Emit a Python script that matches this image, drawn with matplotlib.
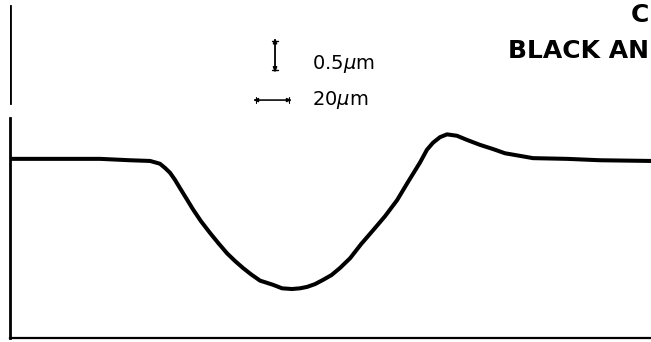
import matplotlib
matplotlib.use("Agg")
import matplotlib.pyplot as plt

# surface profile: position (um) and height (um)
position_um = [0.5, 25.6, 46.2, 61.5, 71.8, 74.4, 76.9, 79.5, 82.1, 84.6,
               87.2, 90.3, 93.8, 97.9, 102.6, 106.7, 111.3, 115.4, 119.5, 123.6,
               128.2, 134.9, 139.5, 144.6, 148.7, 152.3, 156.4, 160.5, 164.9, 169.2,
               174.4, 180.0, 186.2, 192.3, 198.5, 204.1, 210.3, 213.8, 216.9, 220.5,
               224.1, 229.2, 234.4, 241.0, 247.7, 253.8, 260.0, 268.2, 285.6, 302.6,
               328.7]
height_um = [2.56, 2.56, 2.56, 2.54, 2.53, 2.51, 2.49, 2.43, 2.36, 2.26,
             2.14, 2.00, 1.84, 1.67, 1.50, 1.36, 1.21, 1.10, 1.00, 0.91,
             0.82, 0.76, 0.71, 0.70, 0.71, 0.73, 0.77, 0.83, 0.90, 1.00,
             1.14, 1.34, 1.54, 1.74, 1.97, 2.23, 2.51, 2.69, 2.79, 2.87,
             2.91, 2.89, 2.83, 2.76, 2.70, 2.64, 2.61, 2.57, 2.56, 2.54,
             2.53]

scale_labels = [r"0.5$\mu$m", r"20$\mu$m"]
scale_sizes = [0.5, 20]
title_lines = ["C", "BLACK AN"]

W, H = 651, 342
fig = plt.figure(figsize=(W / 100, H / 100), dpi=100)
ax = fig.add_axes([10 / W, 4 / H, 641 / W, 338 / H])
ax.set_xlim(0, 328.7)
ax.set_ylim(0, 4.83)

ax.plot(position_um, height_um, color="black", lw=2.9, solid_capstyle="round",
        solid_joinstyle="round")

# frame: left and bottom only, left one has a break in it
for s in ["top", "right"]:
    ax.spines[s].set_visible(False)
ax.spines["left"].set_linewidth(2.0)
ax.spines["bottom"].set_linewidth(1.6)
ax.spines["left"].set_bounds(0, 3.14)
ax.axvline(0, ymin=3.36 / 4.83, ymax=4.74 / 4.83, color="black", lw=2.0)
ax.set_xticks([])
ax.set_yticks([])

# scale bars
vx, vtop = 135.9, 4.29
ax.annotate("", xy=(vx, vtop - scale_sizes[0]), xytext=(vx, vtop),
            arrowprops=dict(arrowstyle="|-|,widthA=0.25,widthB=0.25", lw=1.0, color="black"))
ax.annotate("", xy=(vx, vtop - scale_sizes[0]), xytext=(vx, vtop),
            arrowprops=dict(arrowstyle="<|-|>,head_length=0.3,head_width=0.12", lw=1.0,
                            color="black", shrinkA=0, shrinkB=0))
hx, hy = 124.6, 3.40
ax.annotate("", xy=(hx + scale_sizes[1], hy), xytext=(hx, hy),
            arrowprops=dict(arrowstyle="|-|,widthA=0.2,widthB=0.2", lw=0.8, color="black"))
ax.annotate("", xy=(hx + scale_sizes[1], hy), xytext=(hx, hy),
            arrowprops=dict(arrowstyle="<|-|>,head_length=0.3,head_width=0.12", lw=0.8,
                            color="black", shrinkA=0, shrinkB=0))

ax.text(155.0, 3.91, scale_labels[0], fontsize=14, va="center", ha="left")
ax.text(155.0, 3.40, scale_labels[1], fontsize=14, va="center", ha="left")

# heading at the top right (cut off in the source)
fig.text(649 / W, 1 - 15 / H, title_lines[0], fontsize=18, fontweight="bold",
         va="center", ha="right")
fig.text(649 / W, 1 - 51 / H, title_lines[1], fontsize=18, fontweight="bold",
         va="center", ha="right")

fig.savefig("out.png", dpi=100)
